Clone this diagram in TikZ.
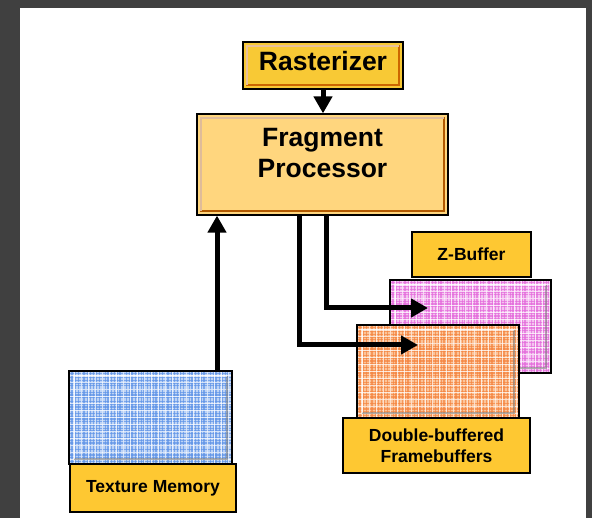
\documentclass[tikz,border=0pt]{standalone}
\usepackage{fontspec}
\setmainfont{Liberation Sans}
\usetikzlibrary{arrows.meta}

\definecolor{frame}{HTML}{404040}
\definecolor{rastfill}{HTML}{F8C935}
\definecolor{fragfill}{HTML}{FFD67E}
\definecolor{tagfill}{HTML}{FEC832}
\definecolor{texbase}{HTML}{BDD3F5}
\definecolor{texline}{HTML}{5E93E8}
\definecolor{zbase}{HTML}{F4C2F0}
\definecolor{zline}{HTML}{E46ADB}
\definecolor{fbbase}{HTML}{FBC49A}
\definecolor{fbline}{HTML}{F5843F}

\tikzset{
  box/.style={draw=black, line width=1.2pt, inner sep=0pt, align=center, font=\bfseries},
  tag/.style={box, fill=tagfill, font=\bfseries\fontsize{17.5}{21}\selectfont},
  % raised panel look for the yellow stages
  bevel/.style={path picture={
    \draw[#1, line width=2pt]
      ([shift={(4pt,4pt)}]path picture bounding box.south west) rectangle
      ([shift={(-4pt,-4pt)}]path picture bounding box.north east);
    \draw[white, opacity=.6, line width=1.5pt]
      ([shift={(4pt,4pt)}]path picture bounding box.south west) |-
      ([shift={(-4pt,-4pt)}]path picture bounding box.north east);}},
  % woven fill for the memories
  plaid/.style 2 args={fill=#1, path picture={
    \foreach \k in {0,...,56}{
      \pgfmathsetmacro\lw{0.3+0.35*mod(\k*7,4)}
      \draw[#2, line width=\lw pt, opacity=.7]
        ([xshift=\k*3pt]path picture bounding box.south west) --
        ([xshift=\k*3pt]path picture bounding box.north west);
    }
    \foreach \k in {0,...,32}{
      \pgfmathsetmacro\lw{0.3+0.35*mod(\k*5,4)}
      \draw[#2, line width=\lw pt, opacity=.7]
        ([yshift=\k*3pt]path picture bounding box.south west) --
        ([yshift=\k*3pt]path picture bounding box.south east);
    }
    \foreach \k in {1,...,24}{
      \draw[white, line width=1pt, opacity=.7]
        ([xshift=\k*7pt-2pt]path picture bounding box.south west) --
        ([xshift=\k*7pt-2pt]path picture bounding box.north west);
    }
    \foreach \k in {1,...,14}{
      \draw[white, line width=1pt, opacity=.7]
        ([yshift=\k*7pt-3pt]path picture bounding box.south west) --
        ([yshift=\k*7pt-3pt]path picture bounding box.south east);
    }
    \draw[black!50, opacity=.6, line width=2pt]
      ([shift={(5pt,5pt)}]path picture bounding box.south west) -|
      ([shift={(-5pt,-5pt)}]path picture bounding box.north east);
    \draw[white, opacity=.6, line width=1.5pt]
      ([shift={(5pt,5pt)}]path picture bounding box.south west) |-
      ([shift={(-5pt,-5pt)}]path picture bounding box.north east);}},
  flow/.style={line width=5pt, -{Triangle[length=17pt,width=18pt]}},
}

\begin{document}
\begin{tikzpicture}[x=1pt,y=-1pt]
\fill[frame] (0,0) rectangle (592,518);
\fill[white] (20,8) rectangle (586,518);

% pipeline stages
\node[box, fill=rastfill, bevel=orange!80!black, minimum width=160pt, minimum height=47pt,
  font=\bfseries\fontsize{26.5}{31}\selectfont] (rast) at (323,65.5) {Rasterizer\rule[-9pt]{0pt}{9pt}};
\node[box, fill=fragfill, bevel=orange!70!black, minimum width=251pt, minimum height=101pt,
  font=\bfseries\fontsize{26.5}{31}\selectfont] (frag) at (322.5,164.5)
  {Fragment\\Processor\rule[-23pt]{0pt}{23pt}};

% memories
\node[box, plaid={texbase}{texline}, minimum width=163pt, minimum height=93pt] (tex) at (150.5,417.5) {};
\node[tag, minimum width=166pt, minimum height=48pt] (texlbl) at (153,488) {Texture Memory};

\node[tag, minimum width=119pt, minimum height=45pt] (zlbl) at (471.5,254.5) {Z-Buffer};
\node[box, plaid={zbase}{zline}, minimum width=161pt, minimum height=93pt] (zbuf) at (470.5,326.5) {};
\node[box, plaid={fbbase}{fbline}, minimum width=162pt, minimum height=93pt] (fb) at (438,371.5) {};
\node[tag, minimum width=187pt, minimum height=55pt] (fblbl) at (436.5,445.5) {Double-buffered\\Framebuffers};

\coordinate (zin) at (428,308);
\coordinate (fbin) at (418,345);

% data paths
\draw[flow] (rast) -- (rast |- frag.north);
\draw[flow] ([xshift=66.5pt]tex.north) -- ([xshift=66.5pt]tex.north |- frag.south);
\draw[flow] ([xshift=3.5pt]frag.south) |- (zin);
\draw[flow] ([xshift=-23.5pt]frag.south) |- (fbin);
\end{tikzpicture}
\end{document}
